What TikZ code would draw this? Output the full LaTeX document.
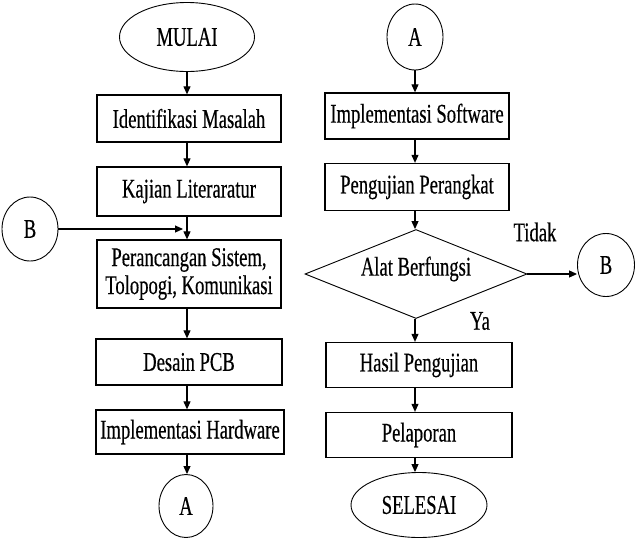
\documentclass[tikz,border=0pt]{standalone}
\usepackage{fontspec}
\setmainfont[FakeStretch=0.69,FakeBold=0.4]{Liberation Serif}
\usetikzlibrary{shapes.geometric,arrows.meta}
\begin{document}
\begin{tikzpicture}[x=1pt,y=-1pt,
  every node/.style={font=\fontsize{27}{28}\selectfont, inner sep=0pt},
  procbox/.style={draw, line width=1.3pt, rectangle, minimum width=#1, align=center},
  term/.style={draw, line width=0.9pt, ellipse},
  conn/.style={draw, line width=0.9pt, ellipse},
  arr/.style={line width=1.1pt, -{Triangle[length=8pt,width=7pt]}}
]
\useasboundingbox (0,0) rectangle (635,542);
% left column
\node[term, minimum width=135pt, minimum height=69pt] (mulai) at (187,37) {MULAI};
\node[procbox=184pt, minimum height=47pt] (s1) at (189,118.5) {Identifikasi Masalah};
\node[procbox=184pt, minimum height=49pt] (s2) at (189,191.5) {Kajian Literaratur};
\node[procbox=184pt, minimum height=68pt] (s3) at (189,274) {Perancangan Sistem,\\Tolopogi, Komunikasi};
\node[procbox=186pt, minimum height=46pt] (s4) at (189,362) {Desain PCB};
\node[procbox=188pt, minimum height=44pt] (s5) at (190,432) {Implementasi Hardware};
\node[conn, minimum width=54pt, minimum height=63pt] (aL) at (186,506) {A};
\node[conn, minimum width=56pt, minimum height=64pt] (bL) at (30,229) {B};
% right column
\node[conn, minimum width=56pt, minimum height=66pt] (aR) at (415,37) {A};
\node[procbox=184pt, minimum height=46pt] (r1) at (417,116) {Implementasi Software};
\node[procbox=184pt, minimum height=47pt] (r2) at (417,187) {Pengujian Perangkat};
\node[diamond, draw, line width=0.9pt, aspect=2.5, minimum width=222pt, minimum height=89pt] (dia) at (416,274) {};
\node (diatext) at (416,269) {Alat Berfungsi};
\node[conn, minimum width=57pt, minimum height=63pt] (bR) at (606,265) {B};
\node[procbox=186pt, minimum height=45pt] (r3) at (419,365) {Hasil Pengujian};
\node[procbox=186pt, minimum height=45pt] (r4) at (419,435) {Pelaporan};
\node[term, minimum width=136pt, minimum height=65pt] (selesai) at (419,505) {SELESAI};
\node (tidak) at (535,232) {Tidak};
\node (ya) at (480,321) {Ya};
% connectors left
\coordinate (jn) at (183,229);
\draw[arr] (mulai.south) -- (mulai.south |- s1.north);
\draw[arr] (s1.south -| mulai.south) -- (s2.north -| mulai.south);
\draw[arr] (s2.south -| mulai.south) -- (s3.north -| mulai.south);
\draw[arr] (bL.east) -- (jn);
\draw[arr] (s3.south -| mulai.south) -- (s4.north -| mulai.south);
\draw[arr] (s4.south -| mulai.south) -- (s5.north -| mulai.south);
\draw[arr] (s5.south -| mulai.south) -- (aL.north -| mulai.south);
% connectors right
\draw[arr] (aR.south) -- (aR.south |- r1.north);
\draw[arr] (r1.south -| aR.south) -- (r2.north -| aR.south);
\draw[arr] (r2.south -| aR.south) -- (dia.north -| aR.south);
\draw[arr] (dia.east) -- (dia.east -| bR.west);
\draw[arr] (dia.south -| aR.south) -- (r3.north -| aR.south);
\draw[arr] (r3.south -| aR.south) -- (r4.north -| aR.south);
\draw[arr] (r4.south -| aR.south) -- (selesai.north -| aR.south);
\end{tikzpicture}
\end{document}
